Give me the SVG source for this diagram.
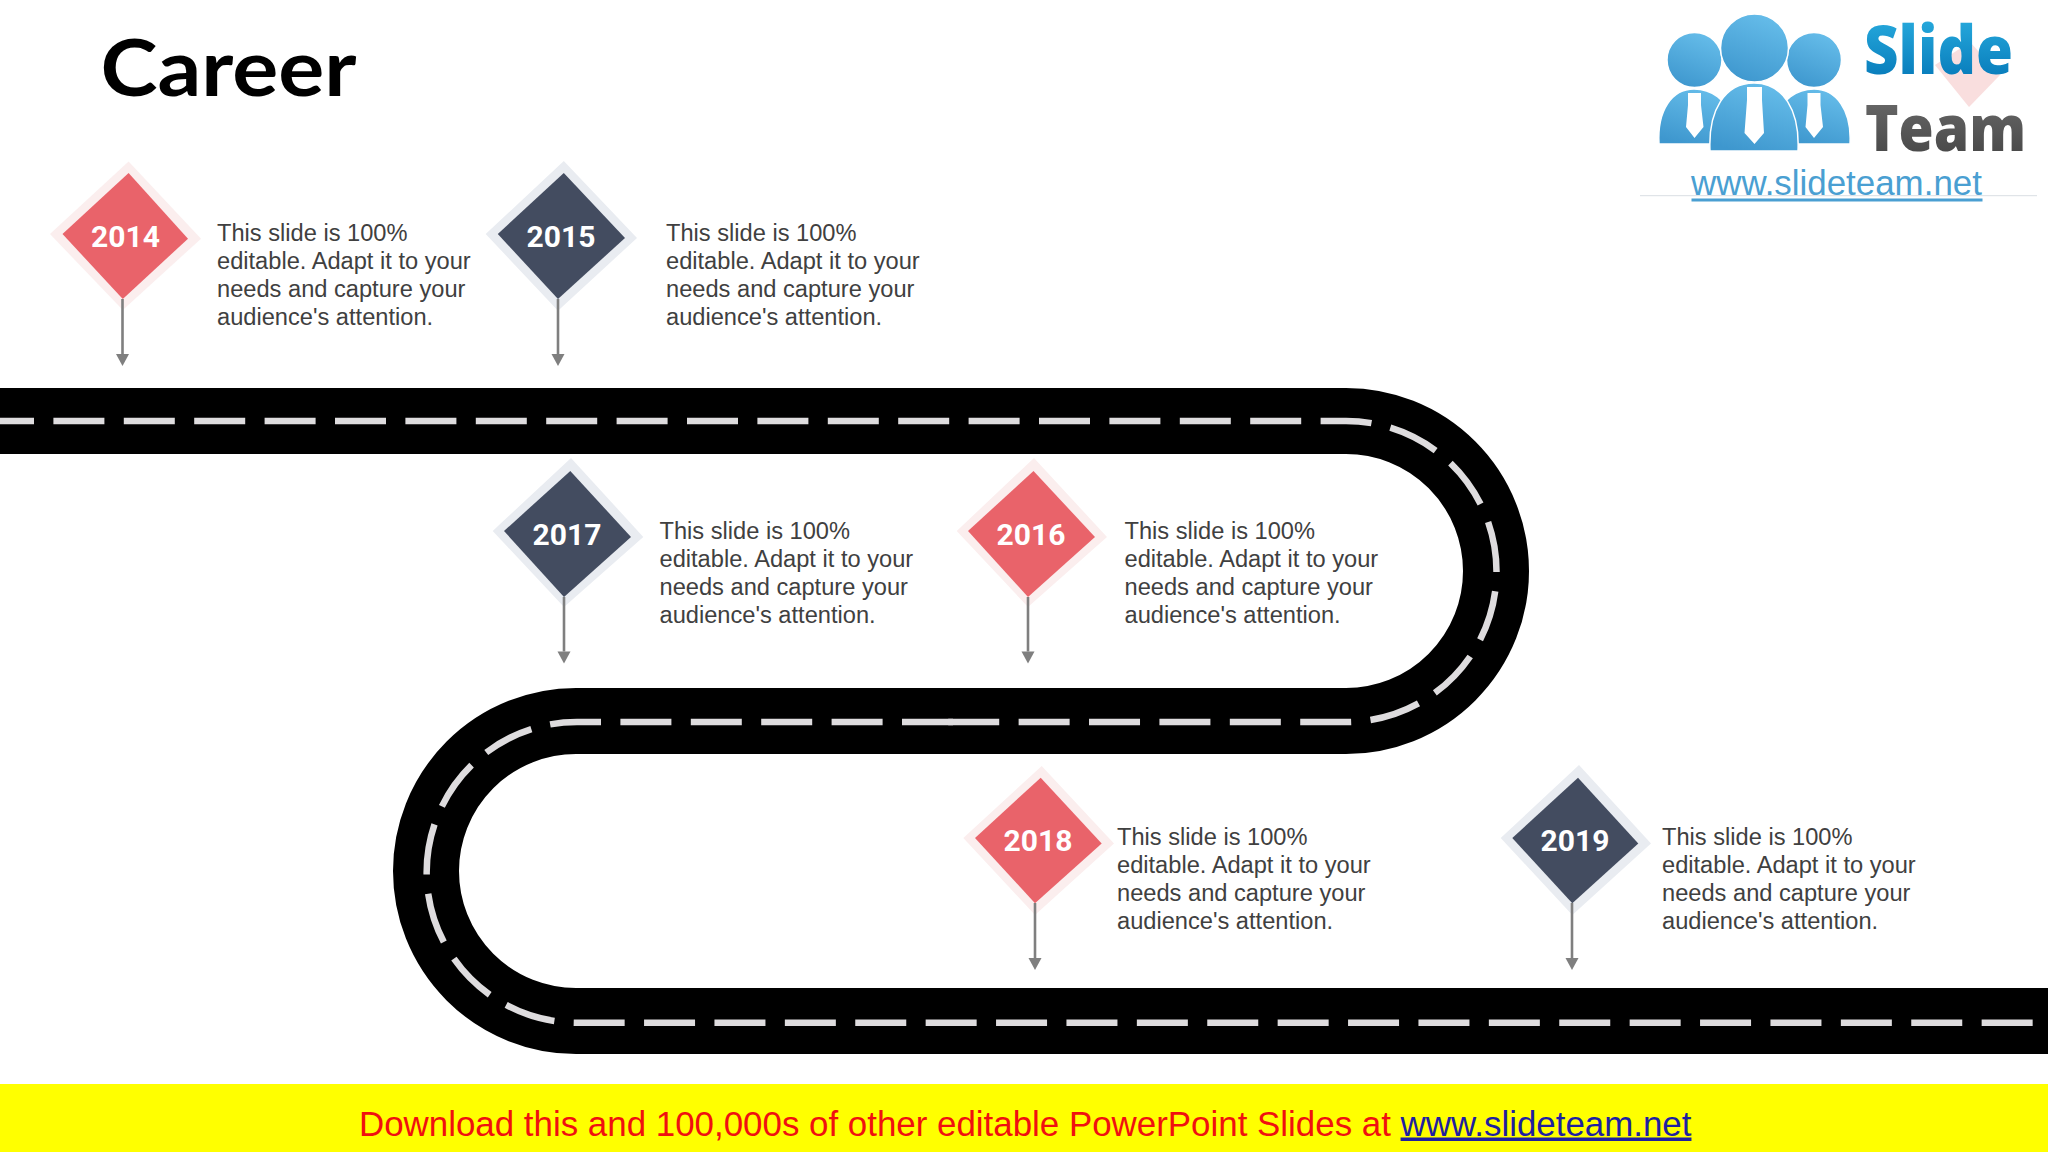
<svg xmlns="http://www.w3.org/2000/svg" width="2048" height="1152" viewBox="0 0 2048 1152">
<style>
.road{fill:none;stroke:#000;stroke-width:66}
.lane{fill:none;stroke:#DEDCDE;stroke-width:6.5;stroke-dasharray:51 19.4}
.halo-r{fill:#FBEEEE}.halo-d{fill:#E9ECF1}
.red{fill:#E9636A}.dark{fill:#434C60}
.yr{font-family:Roboto,"Liberation Sans",sans-serif;font-weight:700;font-size:30px;fill:#fff;text-anchor:middle}
.d{font-family:"Liberation Sans",Arial,sans-serif;font-size:23.65px;fill:#404040}
.ar{stroke:#7F7F7F;stroke-width:2.6;fill:none;marker-end:url(#ah)}
.pb{stroke:#fff;stroke-width:1.5}
</style>
<defs>
<marker id="ah" markerUnits="userSpaceOnUse" markerWidth="14" markerHeight="14" refX="0" refY="6.5" orient="auto" overflow="visible"><path d="M0 0L12 6.5L0 13Z" fill="#7F7F7F"/></marker>
<linearGradient id="gb" x1="0.7" y1="0" x2="0.3" y2="1"><stop offset="0" stop-color="#66BDEA"/><stop offset="1" stop-color="#3E97CE"/></linearGradient>
<linearGradient id="gs" x1="0" y1="0" x2="0" y2="1"><stop offset="0" stop-color="#2FB6E6"/><stop offset="1" stop-color="#0070B2"/></linearGradient>
<linearGradient id="gt" x1="0" y1="0" x2="0" y2="1"><stop offset="0" stop-color="#707070"/><stop offset="1" stop-color="#414141"/></linearGradient>
</defs>
<rect width="2048" height="1152" fill="#fff"/>
<g id="road">
<path class="road" d="M0 421H1346A150 150 0 0 1 1346 721H576A150 150 0 0 0 576 1021H2048"/>
<path class="lane" stroke-dashoffset="17" d="M0 421H1346A150.5 150.5 0 0 1 1346 722H940"/>
<path class="lane" d="M953 722H577A150.35 150.35 0 0 0 577 1022.7H2048"/>
</g>
<text id="title" x="100.5" y="96" font-family="Lato,'Noto Sans',sans-serif" font-weight="700" font-size="78" fill="#000" textLength="256" lengthAdjust="spacingAndGlyphs">Career</text>
<g id="node-2014">
<polygon class="halo-r" points="50,234 128.6,161.5 201,238.7 122.8,310"/>
<polygon class="red" points="62.5,234 128.6,173 188,238.7 122.8,299"/>
<text class="yr" x="125.5" y="247">2014</text>
<text class="d" y="240.5"><tspan x="217">This slide is 100%</tspan><tspan x="217" dy="28.2">editable. Adapt it to your</tspan><tspan x="217" dy="28.2">needs and capture your</tspan><tspan x="217" dy="28.2">audience's attention.</tspan></text>
</g>
<g id="node-2015">
<polygon class="halo-d" points="485.7,234 563.8,161 637,238 558,310.7"/>
<polygon class="dark" points="497.8,234 563.8,173 625,238 558,299"/>
<text class="yr" x="561" y="247">2015</text>
<text class="d" y="240.5"><tspan x="666">This slide is 100%</tspan><tspan x="666" dy="28.2">editable. Adapt it to your</tspan><tspan x="666" dy="28.2">needs and capture your</tspan><tspan x="666" dy="28.2">audience's attention.</tspan></text>
</g>
<g id="node-2017">
<polygon class="halo-d" points="492.7,531 571,458 643.3,537 564,607"/>
<polygon class="dark" points="504,531 570.3,471 631,537 564,597"/>
<text class="yr" x="567" y="545">2017</text>
<text class="d" y="538.8"><tspan x="659.5">This slide is 100%</tspan><tspan x="659.5" dy="28.2">editable. Adapt it to your</tspan><tspan x="659.5" dy="28.2">needs and capture your</tspan><tspan x="659.5" dy="28.2">audience's attention.</tspan></text>
</g>
<g id="node-2016">
<polygon class="halo-r" points="956.7,531 1034,458 1107,537 1028,607"/>
<polygon class="red" points="968,531 1033.5,471 1095,537 1028,597"/>
<text class="yr" x="1031" y="545">2016</text>
<text class="d" y="538.8"><tspan x="1124.5">This slide is 100%</tspan><tspan x="1124.5" dy="28.2">editable. Adapt it to your</tspan><tspan x="1124.5" dy="28.2">needs and capture your</tspan><tspan x="1124.5" dy="28.2">audience's attention.</tspan></text>
</g>
<g id="node-2018">
<polygon class="halo-r" points="963.3,838 1041.7,766 1114,843.5 1035,915"/>
<polygon class="red" points="975,838 1040.7,777.7 1101.7,843.5 1035,903.3"/>
<text class="yr" x="1038" y="851">2018</text>
<text class="d" y="844.8"><tspan x="1117">This slide is 100%</tspan><tspan x="1117" dy="28.2">editable. Adapt it to your</tspan><tspan x="1117" dy="28.2">needs and capture your</tspan><tspan x="1117" dy="28.2">audience's attention.</tspan></text>
</g>
<g id="node-2019">
<polygon class="halo-d" points="1500.7,838 1579,765 1651,843.5 1572.3,915"/>
<polygon class="dark" points="1512.3,838 1578,777.7 1638.3,843.5 1572.3,903.3"/>
<text class="yr" x="1575" y="851">2019</text>
<text class="d" y="844.8"><tspan x="1662">This slide is 100%</tspan><tspan x="1662" dy="28.2">editable. Adapt it to your</tspan><tspan x="1662" dy="28.2">needs and capture your</tspan><tspan x="1662" dy="28.2">audience's attention.</tspan></text>
</g>
<g id="connectors">
<path class="ar" d="M122.5 299V354"/>
<path class="ar" d="M558 299V354"/>
<path class="ar" d="M564 597V651.5"/>
<path class="ar" d="M1028 597V651.5"/>
<path class="ar" d="M1035 903V958"/>
<path class="ar" d="M1572 903V958"/>
</g>
<g id="logo">
<polygon points="1935,65 1970,42 2000,75 1969,107" fill="#F9DEDE"/>
<path class="pb" fill="url(#gb)" d="M1659 144C1657 110 1672 89 1694 89C1712 89 1726 100 1732 118V144Z"/>
<path class="pb" fill="url(#gb)" d="M1850 144C1852 110 1836 89 1814 89C1796 89 1782 100 1776 118V144Z"/>
<path class="pb" fill="url(#gb)" d="M1710 151C1708 110 1725 83 1754 83C1783 83 1800 110 1798 151Z"/>
<circle class="pb" cx="1694.5" cy="60" r="27.5" fill="url(#gb)"/>
<circle class="pb" cx="1814" cy="60" r="27.5" fill="url(#gb)"/>
<circle class="pb" cx="1754.5" cy="48" r="34" fill="url(#gb)"/>
<path fill="#fff" d="M1688 93H1701V105L1703.5 127L1694.5 138L1686 127L1688 105Z"/>
<path fill="#fff" d="M1807.5 93H1820.5V105L1823 127L1814 138L1805.5 127L1807.5 105Z"/>
<path fill="#fff" d="M1747 87H1762V100L1764 133L1754.5 144L1744.5 133L1747 100Z"/>
<text x="1864" y="74" font-family="'Open Sans',sans-serif" font-weight="800" font-size="68" fill="url(#gs)" textLength="149" lengthAdjust="spacingAndGlyphs">Slide</text>
<text x="1865" y="151" font-family="'Open Sans',sans-serif" font-weight="800" font-size="64" fill="url(#gt)" textLength="161" lengthAdjust="spacingAndGlyphs">Team</text>
<line x1="1640" y1="195.7" x2="2037" y2="195.7" stroke="#D9DEE3" stroke-width="1"/>
<text x="1691" y="195" font-family="'Liberation Sans',Arial,sans-serif" font-size="34.9" fill="#4A9FD2">www.slideteam.net</text>
<rect x="1691.5" y="198.5" width="291" height="3" fill="#4A9FD2"/>
</g>
<g id="banner">
<rect x="0" y="1084" width="2048" height="68" fill="#FFFF00"/>
<text x="359" y="1135.5" font-family="'Liberation Sans',Arial,sans-serif" font-size="34.9" fill="#F01010">Download this and 100,000s of other editable PowerPoint Slides at <tspan fill="#1F1FA0" text-decoration="underline">www.slideteam.net</tspan></text>
</g>
</svg>
